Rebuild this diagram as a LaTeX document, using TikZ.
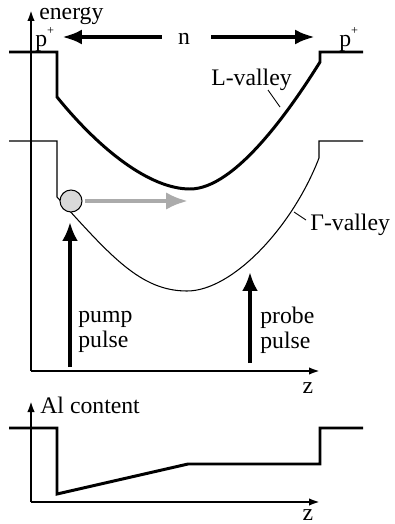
\documentclass[tikz,border=0pt]{standalone}
\usepackage{fontspec}
\setmainfont{Liberation Serif}
\usetikzlibrary{arrows.meta}

\newcommand{\pplus}{p\raisebox{0.5em}{\fontsize{7}{7}\selectfont+}}

\begin{document}
\begin{tikzpicture}[
  x=0.02cm, y=-0.02cm,
  font=\fontsize{13.5}{14}\selectfont,
  lbl/.style={inner sep=0pt},
  ax/.style={line width=1.2pt, -{Latex[length=2.2mm, width=1.5mm]}},
  band/.style={line width=1.7pt},
  thinband/.style={line width=0.6pt},
  lead/.style={line width=0.5pt},
  pulse/.style={line width=2.3pt, -{Latex[length=3.8mm, width=3.2mm]}},
  big/.style={line width=2.3pt, -{Latex[length=4mm, width=3mm]}},
  drift/.style={line width=2.3pt, draw=black!33, -{Latex[length=4.4mm, width=3.5mm]}}
]
\useasboundingbox (0,0) rectangle (395,524);

% ================= upper panel: band profile =================
\coordinate (o1) at (31,371);
\coordinate (ytop) at (31,10);
\coordinate (xend) at (320,371);
\draw[ax] (o1) -- (ytop);
\draw[ax] (o1) -- (xend);
\node[lbl, anchor=base west] (energy) at (39,19) {energy};
\node[lbl, anchor=base] (z1) at (308,393) {z};

% doping regions
\node[lbl, anchor=base west] (pl) at (35,46) {\pplus};
\node[lbl, anchor=base west] (pr) at (339,46) {\pplus};
\node[lbl, anchor=base] (n) at (184,44) {n};
\coordinate (nl) at (62,37);
\coordinate (nr) at (315,37);
\draw[big, shorten <=4.5mm] (n.center |- nl) -- (nl);
\draw[big, shorten <=5.5mm] (n.center |- nr) -- (nr);

% L-valley (thick)
\draw[band] (9,52) -- (57,52) -- (57,97)
  .. controls (100,150) and (150,189) .. (190,189)
  .. controls (235,189) and (290,110) .. (320,62) -- (320,52) -- (363,52);
\node[lbl, anchor=base west] (lv) at (211,85) {L-valley};
\draw[lead] (268,90) -- (280,107);

% Gamma-valley (thin)
\draw[thinband] (9,141) -- (57,141) -- (57,197)
  .. controls (110,255) and (140,291) .. (187,291)
  .. controls (232,291) and (292,228) .. (319,158) -- (319,141) -- (363,141);
\node[lbl, anchor=base west] (gv) at (310,230) {Γ-valley};
\draw[lead] (294,212) -- (306,220);

% hot electron drifting along z
\node[circle, draw, fill=black!15, line width=0.6pt, minimum size=0.44cm,
      inner sep=0pt] (el) at (71,201) {};
\coordinate (drift end) at (188,201);
\draw[drift, shorten <=1.5pt] (el) -- (drift end);

% pump and probe pulses
\coordinate (pump0) at (70,367);
\coordinate (pump1) at (70,222);
\draw[pulse] (pump0) -- (pump1);
\node[lbl, anchor=north west, align=left] (pump) at (78,311) {pump\\pulse};
\coordinate (probe0) at (250,363);
\coordinate (probe1) at (250,272);
\draw[pulse] (probe0) -- (probe1);
\node[lbl, anchor=north west, align=left] (probe) at (260,307) {probe\\pulse};

% ================= lower panel: Al content =================
\coordinate (o2) at (31,502);
\coordinate (ytop2) at (31,401);
\coordinate (xend2) at (320,502);
\draw[ax] (o2) -- (ytop2);
\draw[ax] (o2) -- (xend2);
\node[lbl, anchor=base west] (al) at (40,413) {Al content};
\node[lbl, anchor=base] (z2) at (308,520) {z};
\draw[band] (9,428) -- (57,428) -- (57,494) -- (188,464) -- (320,464)
  -- (320,428) -- (363,428);
\end{tikzpicture}
\end{document}
